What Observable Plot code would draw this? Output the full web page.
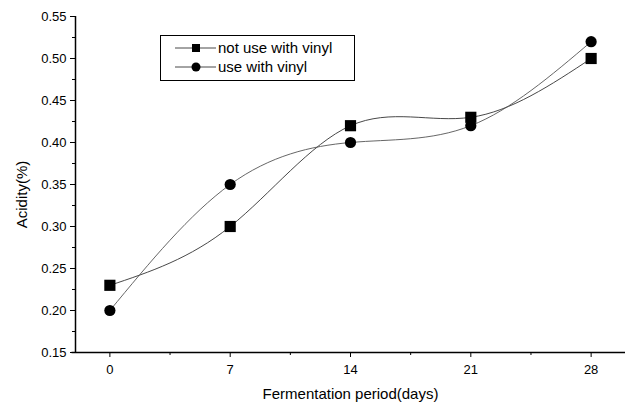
<!DOCTYPE html>
<html><head><meta charset="utf-8">
<script src="https://cdn.jsdelivr.net/npm/d3@7"></script>
<script src="https://cdn.jsdelivr.net/npm/@observablehq/plot@0.6"></script>
<style>
body{margin:0;background:#fff;font-family:"Liberation Sans",Arial,sans-serif;}
#wrap{position:relative;width:635px;height:406px;}
#legend{position:absolute;left:160px;top:35px;width:193px;height:44px;border:1px solid #000;background:#fff;}
</style></head>
<body><div id="wrap"><div id="legend"></div></div>
<script>
const days = [0, 7, 14, 21, 28];
const notUse = [0.23, 0.30, 0.42, 0.43, 0.50];
const useVinyl = [0.20, 0.35, 0.40, 0.42, 0.52];
const seriesNames = ["not use with vinyl", "use with vinyl"];
const yTicks = [0.15, 0.20, 0.25, 0.30, 0.35, 0.40, 0.45, 0.50, 0.55];
const yMinor = [0.175, 0.225, 0.275, 0.325, 0.375, 0.425, 0.475, 0.525];
const xMinor = [3.5, 10.5, 17.5, 24.5];

const dA = days.map((d, i) => ({day: d, v: notUse[i]}));
const dB = days.map((d, i) => ({day: d, v: useVinyl[i]}));

const chart = Plot.plot({
  width: 635, height: 406,
  marginLeft: 75, marginRight: 10, marginTop: 16, marginBottom: 54,
  style: {fontFamily: '"Liberation Sans", Arial, sans-serif', fontSize: "13px", color: "#000", background: "#fff"},
  x: {domain: [-2, 30]},
  y: {domain: [0.15, 0.55]},
  marks: [
    Plot.axisX({ticks: days, tickSize: 5, tickPadding: 7, tickFormat: d => String(d), fontSize: 13, label: null}),
    Plot.axisX({ticks: xMinor, tickSize: 3, tickFormat: () => "", label: null}),
    Plot.axisY({ticks: yTicks, tickSize: 5, tickPadding: 4, tickFormat: d3.format(".2f"), fontSize: 13, label: null}),
    Plot.axisY({ticks: yMinor, tickSize: 3, tickFormat: () => "", label: null}),
    Plot.text(["Fermentation period(days)"], {frameAnchor: "bottom", dy: 46, fontSize: 15, fill: "#000"}),
    Plot.text(["Acidity(%)"], {frameAnchor: "left", textAnchor: "middle", dx: -53, dy: 10, rotate: -90, fontSize: 15, fill: "#000"}),
    Plot.ruleX([-2], {stroke: "#000", strokeWidth: 1.5}),
    Plot.ruleY([0.15], {stroke: "#000", strokeWidth: 1.5, x1: -2.2, x2: 30}),
    Plot.line(dA, {x: "day", y: "v", curve: "natural", stroke: "#333", strokeWidth: 0.9}),
    Plot.line(dB, {x: "day", y: "v", curve: "natural", stroke: "#555", strokeWidth: 0.9}),
    Plot.dot(dA, {x: "day", y: "v", symbol: "square", r: 6.3, fill: "#000", stroke: "none"}),
    Plot.dot(dB, {x: "day", y: "v", symbol: "circle", r: 5.6, fill: "#000", stroke: "none"})
  ]
});
const wrap = document.getElementById("wrap");
wrap.insertBefore(chart, wrap.firstChild);

const lg = d3.select("#legend").append("svg").attr("width", 193).attr("height", 44);
const symbols = ["square", "circle"];
seriesNames.forEach((name, i) => {
  const y = 12 + i * 19;
  lg.append("line").attr("x1", 14).attr("x2", 55).attr("y1", y).attr("y2", y).attr("stroke", "#333").attr("stroke-width", 0.9);
  if (symbols[i] === "square") lg.append("rect").attr("x", 31).attr("y", y - 4).attr("width", 8).attr("height", 8).attr("fill", "#000");
  else lg.append("circle").attr("cx", 35).attr("cy", y).attr("r", 4.5).attr("fill", "#000");
  lg.append("text").attr("x", 57).attr("y", y + 5).attr("font-size", 15).attr("font-family", '"Liberation Sans", Arial, sans-serif').text(name);
});
</script></body></html>
